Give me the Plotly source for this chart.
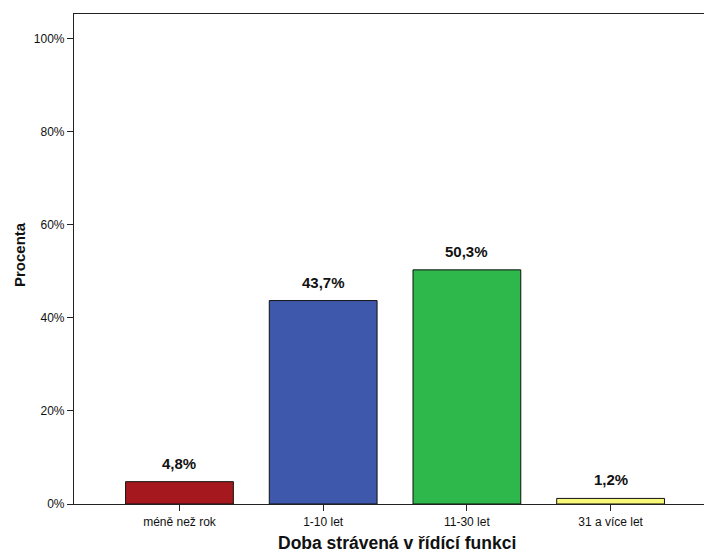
import plotly.graph_objects as go

categories = ["méně než rok", "1-10 let", "11-30 let", "31 a více let"]
percent = [4.8, 43.7, 50.3, 1.2]
bar_colors = ["#a5191e", "#3e58ab", "#2eb84b", "#f8f87a"]
y_ticks = [0, 20, 40, 60, 80, 100]
y_tick_text = ["0%", "20%", "40%", "60%", "80%", "100%"]

FONT = "Liberation Sans, Arial, sans-serif"
x_idx = list(range(len(categories)))

PLOT_L, PLOT_T, PLOT_B = 74, 14, 50
PLOT_W, PLOT_H = 704 - PLOT_L, 554 - PLOT_T - PLOT_B

fig = go.Figure()
fig.add_trace(go.Bar(
    x=x_idx,
    y=percent,
    width=0.75,
    marker=dict(color=bar_colors, line=dict(color="#111111", width=1)),
    hoverinfo="skip",
))

# value labels above each bar, formatted with a decimal comma
for i, v in enumerate(percent):
    fig.add_annotation(
        x=i, y=v, xref="x", yref="y",
        text=f"<b>{v:.1f}%</b>".replace(".", ","),
        showarrow=False, yanchor="bottom", yshift=8,
        font=dict(family=FONT, size=15, color="#111111"),
    )

# axis titles
fig.add_annotation(
    x=(396.5 - PLOT_L) / PLOT_W, y=-38.5 / PLOT_H, xref="paper", yref="paper",
    text="<b>Doba strávená v řídící funkci</b>", showarrow=False,
    xanchor="center", yanchor="middle",
    font=dict(family=FONT, size=17.5, color="#111111"),
)
fig.add_annotation(
    x=(19 - PLOT_L) / PLOT_W, y=(504 - 255) / PLOT_H, xref="paper", yref="paper",
    text="<b>Procenta</b>", showarrow=False, textangle=-90,
    xanchor="center", yanchor="middle",
    font=dict(family=FONT, size=15, color="#111111"),
)

fig.update_layout(
    width=704, height=554,
    margin=dict(l=PLOT_L, r=0, t=PLOT_T, b=PLOT_B),
    paper_bgcolor="white", plot_bgcolor="white",
    showlegend=False,
    font=dict(family=FONT, size=12, color="#111111"),
    xaxis=dict(
        range=[-0.734, 3.65],
        tickmode="array", tickvals=x_idx, ticktext=categories,
        ticks="outside", ticklen=6, tickcolor="#222222", tickwidth=1,
        showline=True, linecolor="#222222", linewidth=1.2, mirror=True,
        showgrid=False, zeroline=False,
        tickfont=dict(family=FONT, size=12, color="#111111"),
    ),
    yaxis=dict(
        range=[0, 105.26],
        tickmode="array", tickvals=y_ticks, ticktext=y_tick_text,
        ticks="outside", ticklen=6, tickcolor="#222222", tickwidth=1,
        showline=True, linecolor="#222222", linewidth=1.2, mirror=False,
        showgrid=False, zeroline=False,
        tickfont=dict(family=FONT, size=12, color="#111111"),
    ),
)

fig.write_html("out.html")
